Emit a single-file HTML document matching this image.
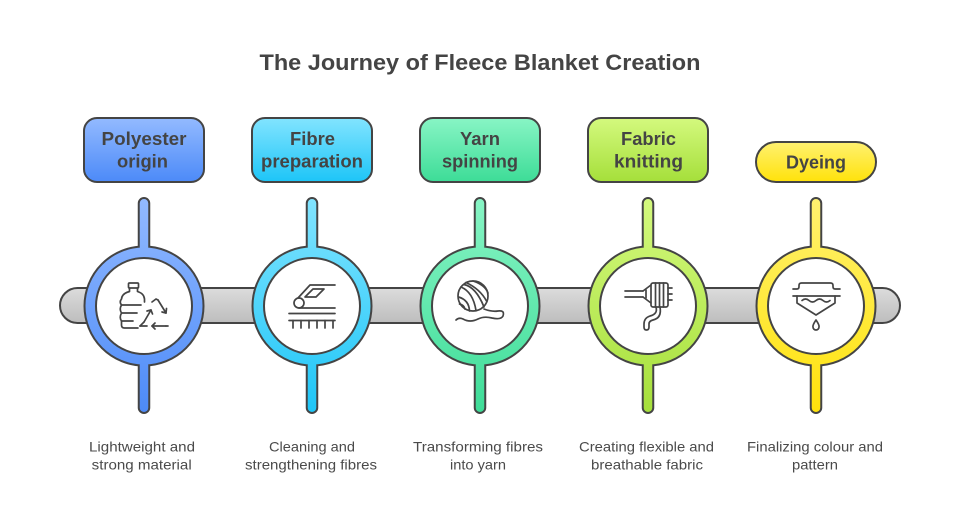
<!DOCTYPE html>
<html>
<head>
<meta charset="utf-8">
<style>
  html,body{margin:0;padding:0;background:#fff;}
  svg{display:block;}
  text{font-family:"Liberation Sans",sans-serif;}
</style>
</head>
<body>
<svg width="960" height="519" viewBox="0 0 960 519" xmlns="http://www.w3.org/2000/svg">
  <defs>
    <linearGradient id="gBar" x1="0" y1="0" x2="0" y2="1">
      <stop offset="0" stop-color="#dcdcdc"/>
      <stop offset="1" stop-color="#bdbdbd"/>
    </linearGradient>
    <!-- box gradients (objectBoundingBox) -->
    <linearGradient id="bBlue" x1="0" y1="0" x2="0" y2="1"><stop offset="0" stop-color="#93baff"/><stop offset="1" stop-color="#4c8af8"/></linearGradient>
    <linearGradient id="bCyan" x1="0" y1="0" x2="0" y2="1"><stop offset="0" stop-color="#82e4ff"/><stop offset="1" stop-color="#1dc5f7"/></linearGradient>
    <linearGradient id="bGreen" x1="0" y1="0" x2="0" y2="1"><stop offset="0" stop-color="#88f5c5"/><stop offset="1" stop-color="#3ddc97"/></linearGradient>
    <linearGradient id="bLime" x1="0" y1="0" x2="0" y2="1"><stop offset="0" stop-color="#d4f97e"/><stop offset="1" stop-color="#a5df3a"/></linearGradient>
    <linearGradient id="bYellow" x1="0" y1="0" x2="0" y2="1"><stop offset="0" stop-color="#fff170"/><stop offset="1" stop-color="#ffe20a"/></linearGradient>
    <!-- ring/stick gradients (user space) -->
    <linearGradient id="sBlue" gradientUnits="userSpaceOnUse" x1="0" y1="197" x2="0" y2="414"><stop offset="0" stop-color="#93baff"/><stop offset="1" stop-color="#4c8af8"/></linearGradient>
    <linearGradient id="sCyan" gradientUnits="userSpaceOnUse" x1="0" y1="197" x2="0" y2="414"><stop offset="0" stop-color="#82e4ff"/><stop offset="1" stop-color="#1dc5f7"/></linearGradient>
    <linearGradient id="sGreen" gradientUnits="userSpaceOnUse" x1="0" y1="197" x2="0" y2="414"><stop offset="0" stop-color="#88f5c5"/><stop offset="1" stop-color="#3ddc97"/></linearGradient>
    <linearGradient id="sLime" gradientUnits="userSpaceOnUse" x1="0" y1="197" x2="0" y2="414"><stop offset="0" stop-color="#d4f97e"/><stop offset="1" stop-color="#a5df3a"/></linearGradient>
    <linearGradient id="sYellow" gradientUnits="userSpaceOnUse" x1="0" y1="197" x2="0" y2="414"><stop offset="0" stop-color="#fff170"/><stop offset="1" stop-color="#ffe20a"/></linearGradient>
  </defs>

  <!-- Title -->
  <text x="480" y="70" text-anchor="middle" font-size="22" font-weight="bold" fill="#444" textLength="441" lengthAdjust="spacingAndGlyphs">The Journey of Fleece Blanket Creation</text>

  <!-- Bar -->
  <rect x="60" y="288" width="840" height="35" rx="17.5" fill="url(#gBar)" stroke="#444" stroke-width="2"/>

  <!-- Step rings: stroke layer -->
  <g stroke="#444" stroke-width="4" fill="#444">
    <rect x="139.75" y="199" width="8.5" height="213" rx="4.25"/><circle cx="144" cy="306" r="58.5"/>
    <rect x="307.75" y="199" width="8.5" height="213" rx="4.25"/><circle cx="312" cy="306" r="58.5"/>
    <rect x="475.75" y="199" width="8.5" height="213" rx="4.25"/><circle cx="480" cy="306" r="58.5"/>
    <rect x="643.75" y="199" width="8.5" height="213" rx="4.25"/><circle cx="648" cy="306" r="58.5"/>
    <rect x="811.75" y="199" width="8.5" height="213" rx="4.25"/><circle cx="816" cy="306" r="58.5"/>
  </g>
  <!-- fill layer -->
  <g stroke="none">
    <rect x="139.75" y="199" width="8.5" height="213" rx="4.25" fill="url(#sBlue)"/><circle cx="144" cy="306" r="58.5" fill="url(#sBlue)"/>
    <rect x="307.75" y="199" width="8.5" height="213" rx="4.25" fill="url(#sCyan)"/><circle cx="312" cy="306" r="58.5" fill="url(#sCyan)"/>
    <rect x="475.75" y="199" width="8.5" height="213" rx="4.25" fill="url(#sGreen)"/><circle cx="480" cy="306" r="58.5" fill="url(#sGreen)"/>
    <rect x="643.75" y="199" width="8.5" height="213" rx="4.25" fill="url(#sLime)"/><circle cx="648" cy="306" r="58.5" fill="url(#sLime)"/>
    <rect x="811.75" y="199" width="8.5" height="213" rx="4.25" fill="url(#sYellow)"/><circle cx="816" cy="306" r="58.5" fill="url(#sYellow)"/>
  </g>
  <!-- inner white circles -->
  <g fill="#fff" stroke="#444" stroke-width="2">
    <circle cx="144" cy="306" r="48"/>
    <circle cx="312" cy="306" r="48"/>
    <circle cx="480" cy="306" r="48"/>
    <circle cx="648" cy="306" r="48"/>
    <circle cx="816" cy="306" r="48"/>
  </g>

  <!-- Icons -->
  <g fill="none" stroke="#444" stroke-width="1.7" stroke-linecap="round" stroke-linejoin="round">
    <!-- 1: bottle + recycle -->
    <rect x="128.5" y="283" width="10" height="5" rx="1"/>
    <path d="M129.5,288 V291.5 Q122,293.5 121.5,299 Q119,302 121.5,305 Q119,309 121.5,313 Q119,317.5 121.5,321 L121.5,325 Q121.5,328 124.5,328 H138"/>
    <path d="M137.5,288 V291.5 Q144,293.5 144.5,299 V302"/>
    <path d="M121.5,305 H141"/>
    <path d="M121.5,313 H137"/>
    <path d="M121.5,321 H133"/>
    <!-- recycle triangle -->
    <path d="M144,322 L151,310"/>
    <path d="M147,311 L151,310 L152.5,314"/>
    <path d="M158,300 L166,313"/>
    <path d="M166.5,308.5 L166,313 L162,312"/>
    <path d="M166,326 H152"/>
    <path d="M155,323 L152,326 L155,329"/>
    <path d="M140,326 H147"/>
    <path d="M140,326 L144,322"/>
    <path d="M152,302 L156,299 L158,300"/>
    <path d="M168,326 L166,326"/>

    <!-- 2: train over rails -->
    <path d="M298,298 L310,285 H335"/>
    <circle cx="299" cy="303" r="5"/>
    <path d="M299,308 H335"/>
    <path d="M305,297 L313,289 H324 L316,297 Z"/>
    <path d="M289,313.5 H335"/>
    <path d="M289,320.5 H335"/>
    <path d="M293,320.5 V328 M301,320.5 V328 M309,320.5 V328 M317,320.5 V328 M325,320.5 V328 M333,320.5 V328"/>

    <!-- 3: yarn ball -->
    <circle cx="473" cy="296" r="15"/>
    <path d="M461,287 Q473,292 476,310.5"/>
    <path d="M458.5,297 Q469,300 469.5,311"/>
    <path d="M459.5,304 Q464,305 465,309"/>
    <path d="M466,282.5 Q480,289 486.5,301"/>
    <path d="M473,281 Q485,285 488,293"/>
    <path d="M464,284.5 Q476,287 484,307"/>
    <path d="M484,309 Q492,312 498,311 Q505,310 503,316 Q501,320 492,318 Q484,316 478,319 Q470,323 463,319 Q459,317 456,320"/>

    <!-- 4: fabric knitting -->
    <path d="M625,291 H643 M625,297 H643"/>
    <path d="M643,291 L651,285 M643,297 L651,303"/>
    <path d="M646,290 V298"/>
    <rect x="651" y="283" width="17" height="24" rx="2"/>
    <path d="M655.5,283 V307 M659.5,283 V307 M663.5,283 V307"/>
    <path d="M668,288 H672 M668,294 H672 M668,300 H672"/>
    <path d="M656,307 Q658,314 650,316 Q644,318 644,324 V327 Q644,330 646.5,330 Q649,330 649,327 V324 Q649,321 653,320 Q662,318 660,307"/>

    <!-- 5: dyeing -->
    <path d="M793,289 H797 Q799,289 799,286.5 V285.5 Q799,283 801.5,283 H830.5 Q833,283 833,285.5 V286.5 Q833,289 835,289 H840"/>
    <path d="M793,296 H840"/>
    <path d="M797,296 V303 L816,315 L835,303 V296"/>
    <path d="M802,300.5 q3.5,-3 7,0 t7,0 t7,0 t7,0"/>
    <path d="M816,320 Q812.5,325 813,327 A3,3 0 0 0 819,327 Q819.5,325 816,320 Z"/>
  </g>

  <!-- Boxes -->
  <g stroke="#444" stroke-width="2">
    <rect x="84" y="118" width="120" height="64" rx="13" fill="url(#bBlue)"/>
    <rect x="252" y="118" width="120" height="64" rx="13" fill="url(#bCyan)"/>
    <rect x="420" y="118" width="120" height="64" rx="13" fill="url(#bGreen)"/>
    <rect x="588" y="118" width="120" height="64" rx="13" fill="url(#bLime)"/>
    <rect x="756" y="142" width="120" height="40" rx="20" fill="url(#bYellow)"/>
  </g>

  <!-- Box labels -->
  <g font-size="18" font-weight="bold" fill="#444" text-anchor="middle">
    <text x="144" y="145" textLength="85" lengthAdjust="spacingAndGlyphs">Polyester</text>
    <text x="142.5" y="167.5" textLength="51" lengthAdjust="spacingAndGlyphs">origin</text>
    <text x="312.5" y="145" textLength="45" lengthAdjust="spacingAndGlyphs">Fibre</text>
    <text x="312" y="167.5" textLength="102" lengthAdjust="spacingAndGlyphs">preparation</text>
    <text x="480" y="145" textLength="40" lengthAdjust="spacingAndGlyphs">Yarn</text>
    <text x="480" y="167.5" textLength="76" lengthAdjust="spacingAndGlyphs">spinning</text>
    <text x="648.5" y="145" textLength="55" lengthAdjust="spacingAndGlyphs">Fabric</text>
    <text x="648.5" y="167.5" textLength="69" lengthAdjust="spacingAndGlyphs">knitting</text>
    <text x="816" y="168.5" textLength="60" lengthAdjust="spacingAndGlyphs">Dyeing</text>
  </g>

  <!-- Descriptions -->
  <g font-size="14" fill="#4a4a4a" text-anchor="middle">
    <text x="142" y="451.5" textLength="106" lengthAdjust="spacingAndGlyphs">Lightweight and</text>
    <text x="141.7" y="469.5" textLength="100" lengthAdjust="spacingAndGlyphs">strong material</text>
    <text x="312" y="451.5" textLength="86" lengthAdjust="spacingAndGlyphs">Cleaning and</text>
    <text x="311" y="469.5" textLength="132" lengthAdjust="spacingAndGlyphs">strengthening fibres</text>
    <text x="478" y="451.5" textLength="130" lengthAdjust="spacingAndGlyphs">Transforming fibres</text>
    <text x="478" y="469.5" textLength="56" lengthAdjust="spacingAndGlyphs">into yarn</text>
    <text x="646.5" y="451.5" textLength="135" lengthAdjust="spacingAndGlyphs">Creating flexible and</text>
    <text x="647" y="469.5" textLength="112" lengthAdjust="spacingAndGlyphs">breathable fabric</text>
    <text x="815" y="451.5" textLength="136" lengthAdjust="spacingAndGlyphs">Finalizing colour and</text>
    <text x="815" y="469.5" textLength="46" lengthAdjust="spacingAndGlyphs">pattern</text>
  </g>
</svg>
</body>
</html>
